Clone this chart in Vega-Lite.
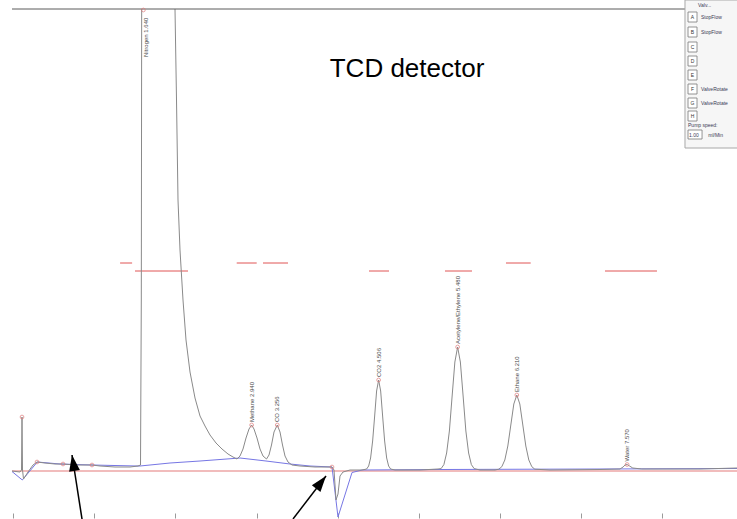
{
  "$schema": "https://vega.github.io/schema/vega-lite/v6.json",
  "width": 725,
  "height": 510,
  "autosize": "none",
  "padding": {"left": 12, "top": 9, "right": 0, "bottom": 0},
  "background": "white",
  "config": {"view": {"stroke": null}, "font": "Liberation Sans"},
  "datasets": {
    "signal": [
      {"t": -0.015, "v": -1}, {"t": 0.0838, "v": -2}, {"t": 0.1023, "v": 0}, {"t": 0.1085, "v": 53}, {"t": 0.1147, "v": 0},
      {"t": 0.127, "v": -9}, {"t": 0.1825, "v": -2}, {"t": 0.2441, "v": 5}, {"t": 0.2935, "v": 8}, {"t": 0.3921, "v": 7},
      {"t": 0.5154, "v": 6}, {"t": 0.6141, "v": 6}, {"t": 0.762, "v": 5}, {"t": 0.9716, "v": 5}, {"t": 1.0703, "v": 4},
      {"t": 1.2552, "v": 3}, {"t": 1.4402, "v": 3}, {"t": 1.5388, "v": 4}, {"t": 1.5697, "v": 5}, {"t": 1.5795, "v": 170},
      {"t": 1.5857, "v": 570}, {"t": 1.6868, "v": 1970}, {"t": 1.8718, "v": 1470}, {"t": 1.9581, "v": 670}, {"t": 1.9951, "v": 461},
      {"t": 2.0136, "v": 370}, {"t": 2.0321, "v": 270}, {"t": 2.0567, "v": 220}, {"t": 2.0937, "v": 170}, {"t": 2.1307, "v": 130},
      {"t": 2.18, "v": 98}, {"t": 2.2417, "v": 72}, {"t": 2.3033, "v": 54}, {"t": 2.365, "v": 44}, {"t": 2.4266, "v": 35},
      {"t": 2.5006, "v": 27}, {"t": 2.5746, "v": 21}, {"t": 2.6486, "v": 16}, {"t": 2.7102, "v": 13}, {"t": 2.7596, "v": 11},
      {"t": 2.7965, "v": 14}, {"t": 2.8335, "v": 21}, {"t": 2.8705, "v": 32}, {"t": 2.9075, "v": 41}, {"t": 2.94, "v": 45},
      {"t": 2.9692, "v": 41}, {"t": 3.0062, "v": 32}, {"t": 3.0432, "v": 21}, {"t": 3.0801, "v": 14}, {"t": 3.1233, "v": 11},
      {"t": 3.1541, "v": 15}, {"t": 3.185, "v": 25}, {"t": 3.2158, "v": 38}, {"t": 3.256, "v": 45}, {"t": 3.2898, "v": 38},
      {"t": 3.3206, "v": 25}, {"t": 3.3514, "v": 14}, {"t": 3.3884, "v": 8}, {"t": 3.4377, "v": 5}, {"t": 3.5364, "v": 4},
      {"t": 3.7213, "v": 3}, {"t": 3.931, "v": 3}, {"t": 3.9556, "v": 0}, {"t": 3.9803, "v": -30}, {"t": 4.0049, "v": -24},
      {"t": 4.0296, "v": -6}, {"t": 4.0666, "v": -2}, {"t": 4.1529, "v": 0}, {"t": 4.3009, "v": 0}, {"t": 4.358, "v": 1},
      {"t": 4.383, "v": 4}, {"t": 4.407, "v": 12}, {"t": 4.432, "v": 29}, {"t": 4.457, "v": 54}, {"t": 4.481, "v": 79},
      {"t": 4.506, "v": 90}, {"t": 4.531, "v": 79}, {"t": 4.555, "v": 54}, {"t": 4.58, "v": 29}, {"t": 4.605, "v": 12},
      {"t": 4.629, "v": 4}, {"t": 4.654, "v": 1}, {"t": 4.7078, "v": 0}, {"t": 5.016, "v": 0}, {"t": 5.238, "v": 1},
      {"t": 5.2765, "v": 1.4}, {"t": 5.3105, "v": 5.4}, {"t": 5.3444, "v": 17}, {"t": 5.3783, "v": 39}, {"t": 5.4122, "v": 74},
      {"t": 5.4461, "v": 108}, {"t": 5.48, "v": 123}, {"t": 5.5139, "v": 108}, {"t": 5.5478, "v": 74}, {"t": 5.5817, "v": 39},
      {"t": 5.6156, "v": 17}, {"t": 5.6495, "v": 5.4}, {"t": 5.6835, "v": 1.4}, {"t": 5.7559, "v": 0}, {"t": 5.9408, "v": 0},
      {"t": 5.9881, "v": 0.8}, {"t": 6.025, "v": 3.3}, {"t": 6.062, "v": 10}, {"t": 6.099, "v": 24}, {"t": 6.136, "v": 45},
      {"t": 6.173, "v": 66}, {"t": 6.21, "v": 75}, {"t": 6.247, "v": 66}, {"t": 6.284, "v": 45}, {"t": 6.321, "v": 24},
      {"t": 6.358, "v": 10}, {"t": 6.395, "v": 3.3}, {"t": 6.432, "v": 0.8}, {"t": 6.619, "v": 0}, {"t": 7.2355, "v": 0.5},
      {"t": 7.4821, "v": 1}, {"t": 7.52, "v": 3}, {"t": 7.545, "v": 5}, {"t": 7.57, "v": 5.5}, {"t": 7.6, "v": 4},
      {"t": 7.64, "v": 2}, {"t": 7.75, "v": 1}, {"t": 8.4686, "v": 1}, {"t": 8.925, "v": 2}
    ],
    "fit": [
      {"t": -0.015, "v": -1.5}, {"t": 0.1122, "v": -10}, {"t": 0.2972, "v": 8}, {"t": 0.5771, "v": 6}, {"t": 0.9716, "v": 5},
      {"t": 1.5265, "v": 4}, {"t": 1.5635, "v": 4}, {"t": 1.9334, "v": 7}, {"t": 2.3033, "v": 9}, {"t": 2.7966, "v": 12},
      {"t": 3.1172, "v": 9}, {"t": 3.4131, "v": 6}, {"t": 3.6597, "v": 4}, {"t": 3.931, "v": 3}, {"t": 4.0049, "v": -47},
      {"t": 4.1776, "v": -2.5}, {"t": 4.3009, "v": 0}, {"t": 5.2627, "v": 0.5}, {"t": 7.2355, "v": 1}, {"t": 8.925, "v": 1.5}
    ],
    "zero": [{"t": -0.015, "t2": 8.925, "v": -1}],
    "frame": [{"t": -0.015, "t2": 8.2836, "v": 461}],
    "windows": [
      {"t": 1.3181, "t2": 1.4661, "v": 207}, {"t": 1.5018, "t2": 2.1554, "v": 199},
      {"t": 2.7559, "t2": 3.0025, "v": 207}, {"t": 3.0802, "t2": 3.3884, "v": 207},
      {"t": 4.3872, "t2": 4.6338, "v": 199}, {"t": 5.3243, "t2": 5.6572, "v": 199},
      {"t": 6.0764, "t2": 6.381, "v": 207}, {"t": 7.2972, "t2": 7.9383, "v": 199}
    ],
    "markers": [
      {"t": 0.1085, "v": 53}, {"t": 0.2935, "v": 8}, {"t": 0.6141, "v": 6}, {"t": 0.9716, "v": 5}, {"t": 3.931, "v": 3},
      {"t": 2.94, "v": 45}, {"t": 3.256, "v": 45}, {"t": 4.506, "v": 90}, {"t": 5.48, "v": 123}, {"t": 6.21, "v": 75},
      {"t": 7.57, "v": 5.5}, {"t": 1.605, "v": 460}
    ],
    "peaks": [
      {"label": "Nitrogen 1.640", "t": 1.64, "labelAt": 410},
      {"label": "Methane 2.940", "t": 2.94, "labelAt": 45},
      {"label": "CO 3.256", "t": 3.256, "labelAt": 45},
      {"label": "CO2 4.506", "t": 4.506, "labelAt": 90},
      {"label": "Acetylene/Ethylene 5.480", "t": 5.48, "labelAt": 123},
      {"label": "Ethane 6.210", "t": 6.21, "labelAt": 75},
      {"label": "Water 7.570", "t": 7.57, "labelAt": 5.5}
    ],
    "title": [{"t": 4.856, "v": 393, "label": "TCD detector"}],
    "arrows": [
      {"id": 1, "end": "tail", "t": 0.8483, "v": -49}, {"id": 1, "end": "tip", "t": 0.725, "v": 15},
      {"id": 2, "end": "tail", "t": 3.4501, "v": -49}, {"id": 2, "end": "tip", "t": 3.857, "v": -6}
    ],
    "panel": [{"t": 8.2836, "t2": 8.97, "v": 470, "v2": 322}],
    "boxes": [
      {"t": 8.321, "t2": 8.432, "v": 458, "v2": 448}, {"t": 8.321, "t2": 8.432, "v": 443, "v2": 433},
      {"t": 8.321, "t2": 8.432, "v": 428, "v2": 418}, {"t": 8.321, "t2": 8.432, "v": 414, "v2": 404},
      {"t": 8.321, "t2": 8.432, "v": 400, "v2": 390}, {"t": 8.321, "t2": 8.432, "v": 386, "v2": 376},
      {"t": 8.321, "t2": 8.432, "v": 372, "v2": 362}, {"t": 8.321, "t2": 8.432, "v": 359, "v2": 349},
      {"t": 8.321, "t2": 8.494, "v": 340, "v2": 331}
    ],
    "letters": [
      {"t": 8.376, "v": 453, "label": "A"}, {"t": 8.376, "v": 438, "label": "B"}, {"t": 8.376, "v": 423, "label": "C"},
      {"t": 8.376, "v": 409, "label": "D"}, {"t": 8.376, "v": 395, "label": "E"}, {"t": 8.376, "v": 381, "label": "F"},
      {"t": 8.376, "v": 367, "label": "G"}, {"t": 8.376, "v": 354, "label": "H"}
    ],
    "panelLabels": [
      {"t": 8.481, "v": 453, "label": "StopFlow"}, {"t": 8.481, "v": 438, "label": "StopFlow"},
      {"t": 8.481, "v": 381, "label": "ValveRotate"}, {"t": 8.481, "v": 367, "label": "ValveRotate"},
      {"t": 8.321, "v": 345, "label": "Pump speed:"}, {"t": 8.333, "v": 335.5, "label": "1.00"},
      {"t": 8.57, "v": 335.5, "label": "ml/Min"}, {"t": 8.445, "v": 465, "label": "Valv..."}
    ]
  },
  "encoding": {
    "x": {"field": "t", "type": "quantitative",
      "scale": {"domain": [-0.015, 8.925], "nice": false, "zero": false},
      "axis": {"orient": "bottom", "offset": -6, "domain": false, "labels": false, "ticks": true, "tickSize": 5,
        "tickColor": "#9a9a9a", "tickWidth": 1, "grid": false, "title": null, "values": [0, 1, 2, 3, 4, 5, 6, 7, 8]}},
    "y": {"field": "v", "type": "quantitative", "scale": {"domain": [-49, 461], "nice": false, "zero": false}, "axis": null}
  },
  "layer": [
    {"data": {"name": "zero"}, "mark": {"type": "rule", "color": "#eca6a6", "strokeWidth": 1.5},
      "encoding": {"x2": {"field": "t2"}}},
    {"data": {"name": "windows"}, "mark": {"type": "rule", "color": "#e05555", "strokeWidth": 1},
      "encoding": {"x2": {"field": "t2"}}},
    {"data": {"name": "fit"}, "mark": {"type": "line", "color": "#7676e4", "strokeWidth": 1, "clip": true},
      "encoding": {"order": {"field": "t", "type": "quantitative"}}},
    {"data": {"name": "signal"}, "mark": {"type": "line", "color": "#8a8a8a", "strokeWidth": 1, "clip": true},
      "encoding": {"order": {"field": "t", "type": "quantitative"}}},
    {"data": {"name": "frame"}, "mark": {"type": "rule", "color": "#5a5a5a", "strokeWidth": 1},
      "encoding": {"x2": {"field": "t2"}}},
    {"data": {"name": "markers"}, "mark": {"type": "point", "shape": "circle", "filled": false, "color": "#e07a7a", "size": 14, "strokeWidth": 1},
      "encoding": {}},
    {"data": {"name": "peaks"}, "mark": {"type": "text", "angle": 270, "align": "left", "baseline": "middle", "dx": 3, "fontSize": 6, "color": "#4a4a4a"},
      "encoding": {"y": {"field": "labelAt", "type": "quantitative", "scale": {"domain": [-49, 461], "nice": false, "zero": false}, "axis": null},
        "text": {"field": "label"}}},
    {"data": {"name": "title"}, "mark": {"type": "text", "align": "center", "baseline": "alphabetic", "fontSize": 26, "color": "#000000", "font": "Liberation Sans"},
      "encoding": {"text": {"field": "label"}}},
    {"data": {"name": "arrows"}, "mark": {"type": "line", "color": "#000000", "strokeWidth": 1.5},
      "encoding": {"detail": {"field": "id"}, "order": {"field": "v", "type": "quantitative"}}},
    {"data": {"name": "arrows"}, "transform": [{"filter": "datum.id == 1 && datum.end == 'tip'"}],
      "mark": {"type": "point", "shape": "M0,0L-0.34,1L0.34,1Z", "filled": true, "color": "#000000", "size": 1024, "angle": -9, "opacity": 1},
      "encoding": {}},
    {"data": {"name": "arrows"}, "transform": [{"filter": "datum.id == 2 && datum.end == 'tip'"}],
      "mark": {"type": "point", "shape": "M0,0L-0.34,1L0.34,1Z", "filled": true, "color": "#000000", "size": 1024, "angle": 38, "opacity": 1},
      "encoding": {}},
    {"data": {"name": "panel"}, "mark": {"type": "rect", "fill": "#f6f6f6", "stroke": "#a8a8a8", "strokeWidth": 1},
      "encoding": {"x2": {"field": "t2"}, "y2": {"field": "v2"}}},
    {"data": {"name": "boxes"}, "mark": {"type": "rect", "fill": "#ffffff", "stroke": "#7a7a7a", "strokeWidth": 0.8},
      "encoding": {"x2": {"field": "t2"}, "y2": {"field": "v2"}}},
    {"data": {"name": "letters"}, "mark": {"type": "text", "align": "center", "baseline": "middle", "fontSize": 5, "color": "#333333"},
      "encoding": {"text": {"field": "label"}}},
    {"data": {"name": "panelLabels"}, "mark": {"type": "text", "align": "left", "baseline": "middle", "fontSize": 5, "color": "#3a3a55"},
      "encoding": {"text": {"field": "label"}}}
  ]
}
